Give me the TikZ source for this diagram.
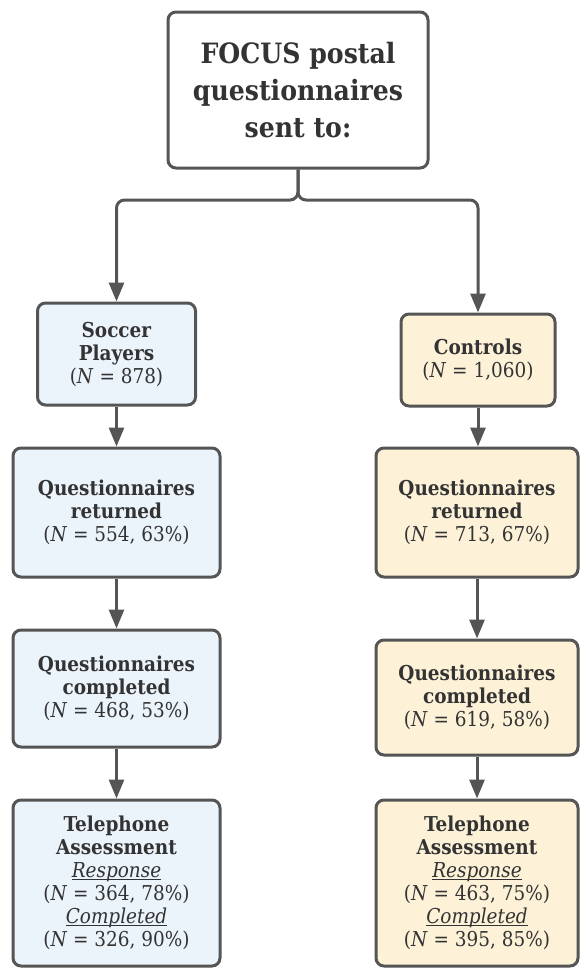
\documentclass[tikz,border=0pt]{standalone}
\usepackage{fontspec}
\setmainfont{DejaVu Serif Condensed}
\usetikzlibrary{arrows.meta}
\definecolor{edgegray}{HTML}{555555}
\definecolor{txtgray}{HTML}{333333}
\definecolor{bluefill}{HTML}{EBF3FB}
\definecolor{yellowfill}{HTML}{FDF2D8}
\newcommand\ulit[1]{\underline{\smash{\textit{#1}}}}
\tikzset{
  box/.style={draw=edgegray, line width=3pt, rounded corners=8pt, align=center,
    text=txtgray, inner sep=0pt, font=\fontsize{20.5}{23}\selectfont},
  bluebox/.style={box, fill=bluefill},
  yellowbox/.style={box, fill=yellowfill},
  conn/.style={draw=edgegray, line width=3pt, -{Triangle[width=15pt,length=19pt]}}
}
\begin{document}
\begin{tikzpicture}[x=1pt,y=-1pt]
\useasboundingbox (0,0) rectangle (581,969);
\node[box, fill=white, minimum width=260pt, minimum height=156pt,
  font=\fontsize{28}{37}\selectfont\bfseries] (top) at (298,90)
  {FOCUS postal\\questionnaires\\sent to:};
\node[bluebox, minimum width=158pt, minimum height=102pt] (soccer) at (116.5,354)
  {\textbf{Soccer}\\\textbf{Players}\\(\textit{N} = 878)};
\node[yellowbox, minimum width=154pt, minimum height=92pt] (controls) at (478,360)
  {\textbf{Controls}\\(\textit{N} = 1,060)};
\node[bluebox, minimum width=207pt, minimum height=129pt] (lret) at (116.5,512.5)
  {\textbf{Questionnaires}\\\textbf{returned}\\(\textit{N} = 554, 63\%)};
\node[yellowbox, minimum width=202pt, minimum height=129pt] (rret) at (477,512.5)
  {\textbf{Questionnaires}\\\textbf{returned}\\(\textit{N} = 713, 67\%)};
\node[bluebox, minimum width=207pt, minimum height=117pt] (lcomp) at (116.5,688.5)
  {\textbf{Questionnaires}\\\textbf{completed}\\(\textit{N} = 468, 53\%)};
\node[yellowbox, minimum width=202pt, minimum height=115pt] (rcomp) at (477,697.5)
  {\textbf{Questionnaires}\\\textbf{completed}\\(\textit{N} = 619, 58\%)};
\node[bluebox, minimum width=207pt, minimum height=166pt] (ltel) at (116.5,883)
  {\textbf{Telephone}\\\textbf{Assessment}\\\ulit{Response}\\(\textit{N} = 364, 78\%)\\\ulit{Completed}\\(\textit{N} = 326, 90\%)};
\node[yellowbox, minimum width=202pt, minimum height=166pt] (rtel) at (477,883)
  {\textbf{Telephone}\\\textbf{Assessment}\\\ulit{Response}\\(\textit{N} = 463, 75\%)\\\ulit{Completed}\\(\textit{N} = 395, 85\%)};
\coordinate (jn) at (298,200);
\draw[conn, rounded corners=8pt] (top.south) -- (jn) -- (jn -| soccer.north) -- (soccer.north);
\draw[conn, rounded corners=8pt] (top.south) -- (jn) -- (jn -| controls.north) -- (controls.north);
\draw[conn] (soccer) -- (lret);
\draw[conn] (lret) -- (lcomp);
\draw[conn] (lcomp) -- (ltel);
\draw[conn] (controls) -- (controls |- rret.north);
\draw[conn] (rret) -- (rcomp);
\draw[conn] (rcomp) -- (rtel);
\end{tikzpicture}
\end{document}
